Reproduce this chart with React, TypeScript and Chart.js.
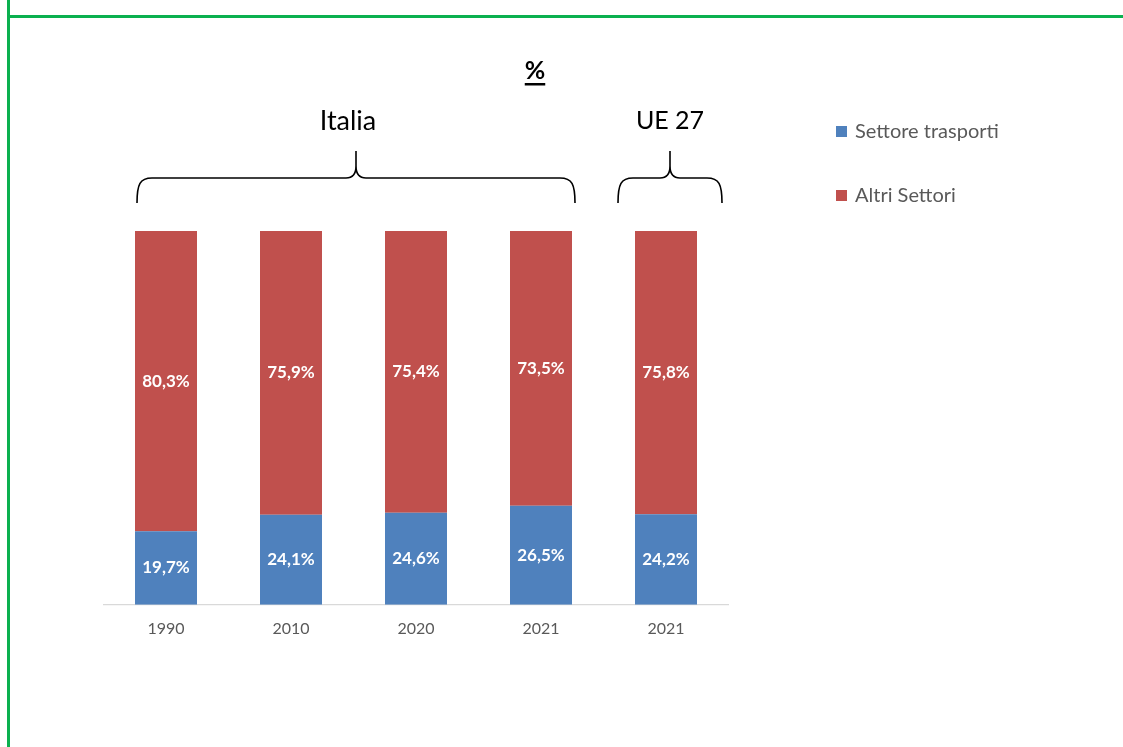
import React, { useEffect, useRef } from "react";
import { Chart, registerables } from "chart.js";

Chart.register(...registerables);

const categories = ["1990", "2010", "2020", "2021", "2021"];
const transportShare = [19.7, 24.1, 24.6, 26.5, 24.2];
const otherShare = [80.3, 75.9, 75.4, 73.5, 75.8];
const seriesNames = ["Settore trasporti", "Altri Settori"];
const seriesColors = ["#4F81BD", "#C0504D"];
const groupLabels = ["Italia", "UE 27"];
const groupFirst = [0, 4];
const groupLast = [3, 4];
const chartTitle = "%";

const FONT = "Lato, 'Open Sans', sans-serif";

const fmt = (v: number) => v.toFixed(1).replace(".", ",") + "%";

function drawBrace(ctx: CanvasRenderingContext2D, x1: number, x2: number, yEnd: number, yBar: number, yTip: number) {
  const xm = (x1 + x2) / 2;
  ctx.beginPath();
  ctx.moveTo(x1, yEnd);
  ctx.bezierCurveTo(x1, yBar + 6, x1 + 3, yBar, x1 + 15, yBar);
  ctx.lineTo(xm - 10, yBar);
  ctx.bezierCurveTo(xm - 3, yBar, xm, yBar - 4, xm, yBar - 12);
  ctx.lineTo(xm, yTip);
  ctx.moveTo(xm, yBar - 12);
  ctx.bezierCurveTo(xm, yBar - 4, xm + 3, yBar, xm + 10, yBar);
  ctx.lineTo(x2 - 15, yBar);
  ctx.bezierCurveTo(x2 - 3, yBar, x2, yBar + 6, x2, yEnd);
  ctx.stroke();
}

const annotations = {
  id: "annotations",
  afterDatasetsDraw(chart: any) {
    const ctx: CanvasRenderingContext2D = chart.ctx;
    ctx.save();
    ctx.fillStyle = "#FFFFFF";
    ctx.font = `bold 17px ${FONT}`;
    ctx.textAlign = "center";
    ctx.textBaseline = "middle";
    chart.data.datasets.forEach((ds: any, di: number) => {
      const meta = chart.getDatasetMeta(di);
      meta.data.forEach((bar: any, i: number) => {
        const p = bar.getProps(["x", "y", "base"], true);
        ctx.fillText(fmt(ds.data[i]), p.x, (p.y + p.base) / 2);
      });
    });
    ctx.restore();
  },
  afterDraw(chart: any) {
    const ctx: CanvasRenderingContext2D = chart.ctx;
    const xs = chart.scales.x;
    const area = chart.chartArea;
    ctx.save();

    // title
    ctx.fillStyle = "#000000";
    ctx.font = `bold 25px ${FONT}`;
    ctx.textAlign = "center";
    ctx.textBaseline = "middle";
    const tx = (area.left + area.right) / 2 + 119;
    ctx.fillText(chartTitle, tx, 71);
    const tw = ctx.measureText(chartTitle).width;
    ctx.fillRect(tx - tw / 2, 83, tw, 2.5);

    // braces
    const leftPad = [29, 48];
    const rightPad = [34, 56];
    const labelShift = [-8, 0];
    ctx.strokeStyle = "#000000";
    ctx.lineWidth = 1.6;
    groupLabels.forEach((g, gi) => {
      const x1 = xs.getPixelForValue(groupFirst[gi]) - leftPad[gi];
      const x2 = xs.getPixelForValue(groupLast[gi]) + rightPad[gi];
      drawBrace(ctx, x1, x2, area.top - 28, area.top - 53, area.top - 80);
      ctx.font = `${gi === 0 ? 27 : 25}px ${FONT}`;
      ctx.fillText(g, (x1 + x2) / 2 + labelShift[gi], 121);
    });

    // legend
    ctx.font = `20px ${FONT}`;
    ctx.textAlign = "left";
    chart.data.datasets.forEach((ds: any, di: number) => {
      const ly = 131 + di * 64;
      ctx.fillStyle = ds.backgroundColor;
      ctx.fillRect(836, ly - 5, 11, 11);
      ctx.fillStyle = "#595959";
      ctx.fillText(ds.label, 855, ly + 1);
    });
    ctx.restore();
  },
};

export default function App() {
  const ref = useRef<HTMLCanvasElement>(null);
  useEffect(() => {
    if (!ref.current) return;
    const chart = new Chart(ref.current, {
      type: "bar",
      data: {
        labels: categories,
        datasets: [
          { label: seriesNames[0], data: transportShare, backgroundColor: seriesColors[0], barPercentage: 0.496, categoryPercentage: 1 },
          { label: seriesNames[1], data: otherShare, backgroundColor: seriesColors[1], barPercentage: 0.496, categoryPercentage: 1 },
        ],
      },
      options: {
        responsive: false,
        animation: false,
        layout: { padding: { left: 103.5, right: 394.5, top: 231, bottom: 95 } },
        plugins: { legend: { display: false }, title: { display: false }, tooltip: { enabled: false } },
        scales: {
          x: {
            stacked: true,
            grid: { display: false, drawTicks: false },
            border: { display: true, color: "#D9D9D9", width: 1.3 },
            ticks: { color: "#595959", font: { family: FONT, size: 16 }, padding: 14 },
          },
          y: { stacked: true, min: 0, max: 100, display: false },
        },
      },
      plugins: [annotations],
    });
    return () => chart.destroy();
  }, []);

  return (
    <div style={{ position: "absolute", left: 0, top: 0, width: 1123, height: 747, background: "#fff" }}>
      <canvas ref={ref} width={1123} height={747} style={{ position: "absolute", left: 0, top: 0, display: "block" }} />
      <div style={{ position: "absolute", left: 7, top: 0, width: 3, height: 747, background: "#0BB04F" }} />
      <div style={{ position: "absolute", left: 10, top: 15, width: 1113, height: 3, background: "#0BB04F" }} />
    </div>
  );
}
